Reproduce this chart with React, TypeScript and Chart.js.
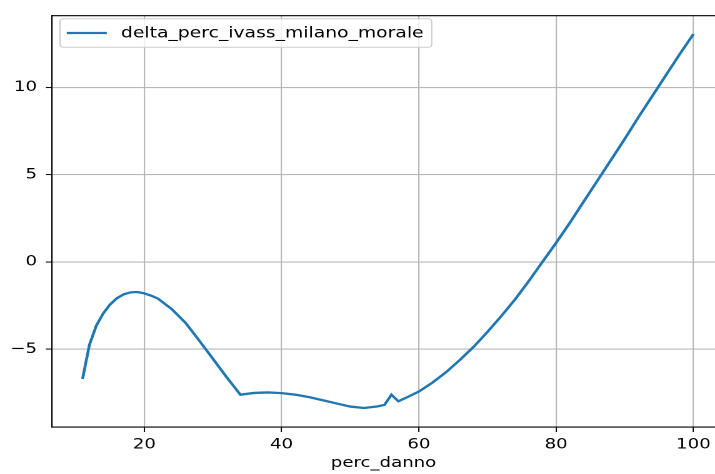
import { useEffect, useRef } from 'react';
import { Chart, registerables } from 'chart.js';

Chart.register(...registerables);

// ---- data ----
const percDanno = [
  11, 12, 13, 14, 15, 16, 17, 18, 19, 20, 21, 22, 24, 26, 28, 30, 32, 34, 36, 38,
  40, 42, 44, 46, 48, 50, 52, 54, 55, 56, 57, 58, 60, 62, 64, 66, 68, 70, 72, 74,
  76, 78, 80, 82, 84, 86, 88, 90, 92, 94, 96, 98, 100,
];
const deltaPercIvassMilanoMorale = [
  -6.7, -4.75, -3.65, -2.95, -2.44, -2.08, -1.85, -1.74, -1.72, -1.8, -1.93, -2.1, -2.7, -3.48, -4.5, -5.55, -6.6, -7.6, -7.5, -7.47,
  -7.51, -7.6, -7.74, -7.92, -8.1, -8.28, -8.36, -8.27, -8.18, -7.6, -7.98, -7.8, -7.42, -6.9, -6.3, -5.6, -4.85, -4.0, -3.1, -2.15,
  -1.1, 0.0, 1.1, 2.25, 3.45, 4.65, 5.85, 7.05, 8.3, 9.5, 10.7, 11.9, 13.05,
];
const seriesLabel = 'delta_perc_ivass_milano_morale';
const xTitle = 'perc_danno';
const xTicks = [20, 40, 60, 80, 100];
const yTicks = [-5, 0, 5, 10];

const FONT = 'DejaVu Sans';
const SX = 1.25; // horizontal stretch of the reference picture
const CW = 715 / SX;
const CH = 474;
const X_MIN = 6.55;
// the reference is cropped at the window edge, before its right spine (at 104.45)
const X_MAX = X_MIN + ((715 - 52) / (724 - 52)) * 97.9;

const fmt = (v: number) => (v < 0 ? '\u2212' + Math.abs(v) : String(v));

const framePlugin = {
  id: 'frame',
  afterDatasetsDraw(chart: any) {
    const { ctx, chartArea } = chart;
    ctx.save();
    ctx.strokeStyle = '#000';
    ctx.lineWidth = 1.1;
    ctx.beginPath();
    ctx.moveTo(chartArea.left, chartArea.top);
    ctx.lineTo(chartArea.right + 2, chartArea.top);
    ctx.stroke();
    ctx.restore();
  },
};

const legendPlugin = {
  id: 'mplLegend',
  afterDraw(chart: any) {
    const { ctx } = chart;
    const ds = chart.data.datasets[0];
    const x0 = 48, y0 = 18.7, x1 = 345.4, y1 = 47.3, r = 3;
    ctx.save();
    ctx.beginPath();
    ctx.moveTo(x0 + r, y0);
    ctx.lineTo(x1 - r, y0);
    ctx.quadraticCurveTo(x1, y0, x1, y0 + r);
    ctx.lineTo(x1, y1 - r);
    ctx.quadraticCurveTo(x1, y1, x1 - r, y1);
    ctx.lineTo(x0 + r, y1);
    ctx.quadraticCurveTo(x0, y1, x0, y1 - r);
    ctx.lineTo(x0, y0 + r);
    ctx.quadraticCurveTo(x0, y0, x0 + r, y0);
    ctx.closePath();
    ctx.fillStyle = 'rgba(255,255,255,0.8)';
    ctx.fill();
    ctx.strokeStyle = '#cccccc';
    ctx.lineWidth = 1;
    ctx.stroke();
    const yc = (y0 + y1) / 2;
    ctx.beginPath();
    ctx.moveTo(53.4, yc);
    ctx.lineTo(85.4, yc);
    ctx.strokeStyle = ds.borderColor;
    ctx.lineWidth = 2.3;
    ctx.stroke();
    ctx.fillStyle = '#000';
    ctx.font = `15px "${FONT}"`;
    ctx.textBaseline = 'middle';
    ctx.textAlign = 'left';
    ctx.fillText(ds.label, 96.8, yc + 0.5);
    ctx.restore();
  },
};

export default function App() {
  const ref = useRef<HTMLCanvasElement | null>(null);

  useEffect(() => {
    if (!ref.current) return;
    Chart.defaults.font.family = FONT;
    const chart = new Chart(ref.current, {
      type: 'line',
      data: {
        datasets: [
          {
            label: seriesLabel,
            data: percDanno.map((x, i) => ({ x, y: deltaPercIvassMilanoMorale[i] })),
            borderColor: '#1f77b4',
            backgroundColor: '#1f77b4',
            borderWidth: 2.3,
            pointRadius: 0,
            tension: 0,
            fill: false,
          },
        ],
      },
      options: {
        animation: false,
        responsive: false,
        devicePixelRatio: 2,
        layout: { padding: { left: 0, top: 12, right: 0, bottom: 0 } },
        plugins: {
          legend: { display: false },
          tooltip: { enabled: false },
        },
        scales: {
          x: {
            type: 'linear',
            min: X_MIN,
            max: X_MAX,
            afterBuildTicks: (scale: any) => {
              scale.ticks = xTicks.map((v) => ({ value: v }));
            },
            afterFit: (scale: any) => {
              scale.height = 47;
              scale.paddingRight = 0;
            },
            ticks: {
              callback: (v: any) => fmt(Number(v)),
              font: { size: 14.5, family: FONT },
              color: '#000',
              padding: 4,
              maxRotation: 0,
              autoSkip: false,
            },
            grid: {
              color: '#b8b8b8',
              lineWidth: 1.1,
              tickColor: '#000',
              tickLength: 5,
              tickWidth: 1,
            },
            border: { display: true, color: '#000', width: 1.1 },
            title: {
              display: true,
              text: xTitle,
              color: '#000',
              font: { size: 14.5, family: FONT },
              padding: { top: 0, bottom: 2 },
            },
          },
          y: {
            type: 'linear',
            min: -9.45,
            max: 14.1,
            afterBuildTicks: (scale: any) => {
              scale.ticks = yTicks.map((v) => ({ value: v }));
            },
            afterFit: (scale: any) => {
              scale.width = 52 / SX;
            },
            ticks: {
              callback: (v: any) => fmt(Number(v)),
              font: { size: 14.5, family: FONT },
              color: '#000',
              padding: 7,
              autoSkip: false,
            },
            grid: {
              color: '#b8b8b8',
              lineWidth: 1.1,
              tickColor: '#000',
              tickLength: 5,
              tickWidth: 1,
            },
            border: { display: true, color: '#000', width: 1.1 },
          },
        },
      },
      plugins: [framePlugin, legendPlugin],
    } as any);
    return () => chart.destroy();
  }, []);

  return (
    <div style={{ position: 'absolute', left: 0, top: 0, width: 715, height: 474, background: '#fff' }}>
      <div style={{ width: CW, height: CH, transform: `scaleX(${SX})`, transformOrigin: '0 0' }}>
        <canvas ref={ref} width={CW} height={CH} style={{ display: 'block', width: CW, height: CH }} />
      </div>
    </div>
  );
}
